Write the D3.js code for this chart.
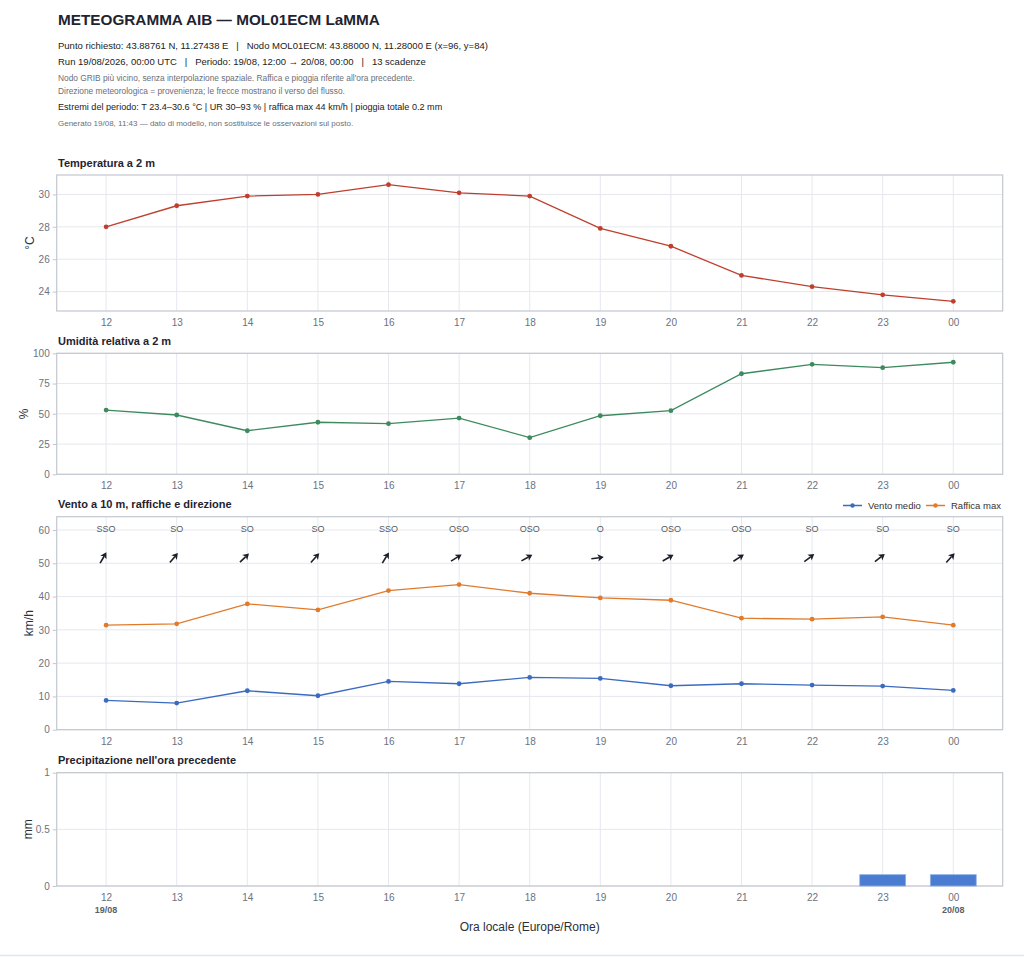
<!DOCTYPE html>
<html>
<head>
<meta charset="utf-8">
<script src="https://cdn.jsdelivr.net/npm/d3@7"></script>
<style>
  body { margin: 0; background: #fff; font-family: "Liberation Sans", Arial, Helvetica, sans-serif; }
  svg { display: block; }
</style>
</head>
<body>
<div id="chart"></div>
<script>
// ore locali delle 13 scadenze
const hours = ["12", "13", "14", "15", "16", "17", "18", "19", "20", "21", "22", "23", "00"];
const dayLabels = ["19/08", "", "", "", "", "", "", "", "", "", "", "", "20/08"];

const temperature = [28.0, 29.3, 29.9, 30.0, 30.6, 30.1, 29.9, 27.9, 26.8, 25.0, 24.3, 23.8, 23.4];
const humidity = [53.1, 49.0, 36.0, 43.0, 41.8, 46.5, 30.3, 48.4, 52.6, 83.1, 90.9, 88.1, 92.6];
const windMean = [8.8, 8.0, 11.7, 10.2, 14.5, 13.8, 15.7, 15.4, 13.2, 13.8, 13.4, 13.1, 11.8];
const windGust = [31.4, 31.8, 37.8, 36.0, 41.8, 43.6, 41.0, 39.6, 38.9, 33.5, 33.2, 33.9, 31.4];
const windDir = [210, 220, 226, 222, 212, 238, 241, 262, 240, 237, 233, 232, 222];
const precip = [0, 0, 0, 0, 0, 0, 0, 0, 0, 0, 0, 0.1, 0.1];

const tempTicks = [24, 26, 28, 30];
const humTicks = [0, 25, 50, 75, 100];
const windTicks = [0, 10, 20, 30, 40, 50, 60];
const precipTicks = [0, 0.5, 1];

const compass = ["N", "NNE", "NE", "ENE", "E", "ESE", "SE", "SSE",
                 "S", "SSO", "SO", "OSO", "O", "ONO", "NO", "NNO"];
const dirLabel = d => compass[Math.round(d / 22.5) % 16];

const W = 1024, H = 957;
const left = 56.7, right = 1002.7;
const textDark = "#1f2430", tickGrey = "#6b7280", gridCol = "#e6e8ee", frameCol = "#c3c7cf";

const svg = d3.select("#chart").append("svg")
  .attr("width", W).attr("height", H);

const x = d3.scaleLinear().domain([-0.7, hours.length - 0.3]).range([left, right]);

// intestazione
const header = [
  { t: "METEOGRAMMA AIB \u2014 MOL01ECM LaMMA", y: 24.5, size: 15.3, weight: "bold", col: textDark },
  { t: "Punto richiesto: 43.88761 N, 11.27438 E  \u00a0|\u00a0  Nodo MOL01ECM: 43.88000 N, 11.28000 E (x=96, y=84)", y: 48.5, size: 9.5, col: "#222" },
  { t: "Run 19/08/2026, 00:00 UTC  \u00a0|\u00a0  Periodo: 19/08, 12:00 \u2192 20/08, 00:00  \u00a0|\u00a0  13 scadenze", y: 64.5, size: 9.5, col: "#222" },
  { t: "Nodo GRIB pi\u00f9 vicino, senza interpolazione spaziale. Raffica e pioggia riferite all'ora precedente.", y: 80.5, size: 8.35, col: "#6b6f78" },
  { t: "Direzione meteorologica = provenienza; le frecce mostrano il verso del flusso.", y: 94, size: 8.35, col: "#6b6f78" },
  { t: "Estremi del periodo: T 23.4\u201330.6 \u00b0C | UR 30\u201393 % | raffica max 44 km/h | pioggia totale 0.2 mm", y: 110, size: 9.1, col: "#222" },
  { t: "Generato 19/08, 11:43 \u2014 dato di modello, non sostituisce le osservazioni sul posto.", y: 126, size: 8.0, col: "#6b6f78" }
];
svg.append("g").selectAll("text").data(header).join("text")
  .attr("x", 58).attr("y", d => d.y)
  .attr("font-size", d => d.size)
  .attr("font-weight", d => d.weight || "normal")
  .attr("fill", d => d.col)
  .style("white-space", "pre")
  .text(d => d.t);

function panel(cfg) {
  const y = d3.scaleLinear().domain(cfg.domain).range([cfg.bottom, cfg.top]);
  const g = svg.append("g");

  g.append("text").attr("x", 58).attr("y", cfg.top - 8.5)
    .attr("font-size", 11).attr("font-weight", "bold").attr("fill", textDark)
    .text(cfg.title);

  // griglia
  g.append("g").selectAll("line").data(hours).join("line")
    .attr("x1", (d, i) => x(i)).attr("x2", (d, i) => x(i))
    .attr("y1", cfg.top).attr("y2", cfg.bottom)
    .attr("stroke", gridCol).attr("stroke-width", 1);
  g.append("g").selectAll("line").data(cfg.ticks).join("line")
    .attr("x1", left).attr("x2", right)
    .attr("y1", d => y(d)).attr("y2", d => y(d))
    .attr("stroke", gridCol).attr("stroke-width", 1);

  g.append("rect").attr("x", left).attr("y", cfg.top)
    .attr("width", right - left).attr("height", cfg.bottom - cfg.top)
    .attr("fill", "none").attr("stroke", frameCol).attr("stroke-width", 1.2);

  const yAxis = g.append("g").attr("transform", `translate(${left},0)`)
    .call(d3.axisLeft(y).tickValues(cfg.ticks).tickSize(4).tickPadding(3).tickFormat(d3.format("~g")));
  yAxis.select(".domain").remove();
  yAxis.selectAll("line").attr("stroke", frameCol);
  yAxis.selectAll("text").attr("fill", tickGrey).attr("font-size", 10)
    .attr("font-family", "Liberation Sans, Arial, sans-serif");

  const xAxis = g.append("g").attr("transform", `translate(0,${cfg.bottom})`)
    .call(d3.axisBottom(x).tickValues(d3.range(hours.length)).tickSize(0).tickPadding(8)
      .tickFormat(i => hours[i]));
  xAxis.select(".domain").remove();
  xAxis.selectAll("text").attr("fill", tickGrey).attr("font-size", 10)
    .attr("font-family", "Liberation Sans, Arial, sans-serif");

  g.append("text")
    .attr("transform", `translate(${cfg.titleX},${(cfg.top + cfg.bottom) / 2}) rotate(-90)`)
    .attr("text-anchor", "middle").attr("dy", "0.35em")
    .attr("font-size", 12).attr("fill", "#2b2f38")
    .text(cfg.unit);

  return { g, y };
}

function series(p, values, color) {
  const line = d3.line().x((d, i) => x(i)).y(d => p.y(d));
  p.g.append("path").datum(values)
    .attr("d", line).attr("fill", "none")
    .attr("stroke", color).attr("stroke-width", 1.3);
  p.g.append("g").selectAll("circle").data(values).join("circle")
    .attr("cx", (d, i) => x(i)).attr("cy", d => p.y(d))
    .attr("r", 2.4).attr("fill", color);
}

// temperatura
const pT = panel({ title: "Temperatura a 2 m", unit: "\u00b0C", top: 175, bottom: 311,
  domain: [22.8, 31.2], ticks: tempTicks, titleX: 30 });
series(pT, temperature, "#bf3f2e");

// umidita
const pH = panel({ title: "Umidit\u00e0 relativa a 2 m", unit: "%", top: 353.3, bottom: 474.3,
  domain: [0, 100], ticks: humTicks, titleX: 24 });
series(pH, humidity, "#3d8a5e");

// vento
const pW = panel({ title: "Vento a 10 m, raffiche e direzione", unit: "km/h", top: 516.7, bottom: 729.7,
  domain: [0, 64], ticks: windTicks, titleX: 29 });
series(pW, windGust, "#e07b2c");
series(pW, windMean, "#3b6bbf");

pW.g.append("g").selectAll("text").data(windDir).join("text")
  .attr("x", (d, i) => x(i)).attr("y", pW.y(60.4)).attr("dy", "0.35em")
  .attr("text-anchor", "middle").attr("font-size", 9).attr("fill", "#555a63")
  .text(d => dirLabel(d));

// frecce: verso del flusso = provenienza + 180
const arrows = pW.g.append("g").selectAll("g").data(windDir).join("g")
  .attr("transform", (d, i) => `translate(${x(i) - 3},${pW.y(51.6)}) rotate(${(d + 180) % 360})`);
arrows.append("line").attr("x1", 0).attr("y1", 6).attr("x2", 0).attr("y2", -2)
  .attr("stroke", "#1b1f27").attr("stroke-width", 1.6);
arrows.append("path").attr("d", "M0,-6.5 L3.6,-0.5 L0,-2 L-3.6,-0.5 Z").attr("fill", "#1b1f27");

// legenda
const legend = [{ name: "Vento medio", col: "#3b6bbf", x: 843 }, { name: "Raffica max", col: "#e07b2c", x: 926 }];
const lg = svg.append("g").selectAll("g").data(legend).join("g")
  .attr("transform", d => `translate(${d.x},505.5)`);
lg.append("line").attr("x1", 0).attr("x2", 19).attr("stroke", d => d.col).attr("stroke-width", 1.5);
lg.append("circle").attr("cx", 9.5).attr("r", 2.2).attr("fill", d => d.col);
lg.append("text").attr("x", 25).attr("dy", "0.35em").attr("font-size", 9.5).attr("fill", "#333")
  .text(d => d.name);

// precipitazione
const pP = panel({ title: "Precipitazione nell'ora precedente", unit: "mm", top: 772.7, bottom: 886,
  domain: [0, 1], ticks: precipTicks, titleX: 28 });
const barW = (x(1) - x(0)) * 0.65;
pP.g.append("g").selectAll("rect").data(precip).join("rect")
  .attr("x", (d, i) => x(i) - barW / 2).attr("y", d => pP.y(d))
  .attr("width", barW).attr("height", d => pP.y(0) - pP.y(d))
  .attr("fill", "#4a7cd2").attr("stroke", "#8fb0e6").attr("stroke-width", d => d > 0 ? 0.8 : 0);

svg.append("g").selectAll("text").data(dayLabels).join("text")
  .attr("x", (d, i) => x(i)).attr("y", 912.5).attr("text-anchor", "middle")
  .attr("font-size", 9).attr("font-weight", "bold").attr("fill", "#5a5f69")
  .text(d => d);

svg.append("text").attr("x", (left + right) / 2).attr("y", 931)
  .attr("text-anchor", "middle").attr("font-size", 12).attr("fill", "#2b2f38")
  .text("Ora locale (Europe/Rome)");

svg.append("line").attr("x1", 0).attr("x2", W).attr("y1", 955.5).attr("y2", 955.5)
  .attr("stroke", "#e4e6ea").attr("stroke-width", 1.5);
</script>
</body>
</html>
